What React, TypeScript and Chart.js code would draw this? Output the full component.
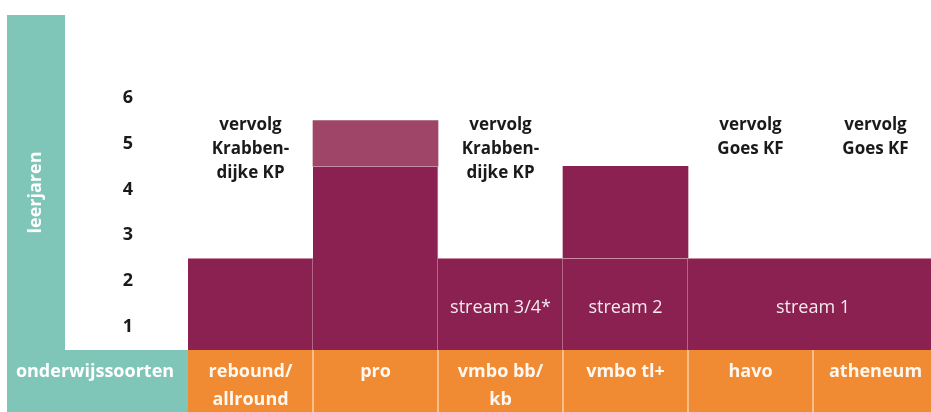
import React, { useEffect, useRef } from "react";
import { Chart, registerables } from "chart.js";

Chart.register(...registerables);

// ---- data ----
const categories: (string | string[])[] = [
  ["rebound/", "allround"],
  "pro",
  ["vmbo bb/", "kb"],
  "vmbo tl+",
  "havo",
  "atheneum",
];
const yearLabels = ["1", "2", "3", "4", "5", "6"];
const lowerYears: [number, number][] = [
  [0, 2],
  [0, 4],
  [0, 2],
  [0, 2],
  [0, 2],
  [0, 2],
];
const upperYears: ([number, number] | null)[] = [null, [4, 5], null, [2, 4], null, null];
const upperIsLight = [false, true, false, false, false, false];
const streams = ["", "", "stream 3/4*", "stream 2", "stream 1", "stream 1"];
const followUp: string[][] = [
  ["vervolg", "Krabben-", "dijke KP"],
  [],
  ["vervolg", "Krabben-", "dijke KP"],
  [],
  ["vervolg", "Goes KF"],
  ["vervolg", "Goes KF"],
];
const yAxisTitle = "leerjaren";
const xAxisTitle = "onderwijssoorten";

// ---- style ----
const FONT = "'Open Sans', 'DejaVu Sans', sans-serif";
const MAROON = "#8a2150";
const MAROON_LIGHT = "#9e4568";
const SEP = "#c98aa3";
const TEAL = "#7fc6b9";
const ORANGE = "#f08b33";
const ORANGE_SEP = "#f8cfa6";
const Y_MAX = 7.3;
const STREAM_LABEL_AT = 0.92;
const FOLLOW_UP_AT = 4.9;

const sepRight = (i: number) =>
  i === categories.length - 1 || (streams[i] !== "" && streams[i] === streams[i + 1]) ? 0 : 1;

const decor = {
  id: "decor",
  beforeDraw(chart: any) {
    const { ctx, chartArea: ca, scales, width, height } = chart;
    const x = scales.x;
    ctx.save();
    ctx.fillStyle = "#ffffff";
    ctx.fillRect(0, 0, width, height);
    // teal L-shape
    ctx.fillStyle = TEAL;
    ctx.fillRect(7, ca.top, 58, height - ca.top);
    ctx.fillRect(7, ca.bottom, ca.left - 7, height - ca.bottom);
    // orange band
    ctx.fillStyle = ORANGE;
    ctx.fillRect(ca.left, ca.bottom, ca.right - ca.left, height - ca.bottom);
    ctx.fillStyle = ORANGE_SEP;
    for (let i = 0; i < categories.length - 1; i++) {
      const bx = (x.getPixelForValue(i) + x.getPixelForValue(i + 1)) / 2;
      ctx.fillRect(bx - 0.75, ca.bottom, 1.5, height - ca.bottom);
    }
    ctx.restore();
  },
  afterDatasetsDraw(chart: any) {
    const { ctx, chartArea: ca, scales } = chart;
    const x = scales.x;
    const y = scales.y;
    ctx.save();
    ctx.textAlign = "center";
    ctx.textBaseline = "middle";
    // stream labels
    ctx.fillStyle = "#f6e9ef";
    ctx.font = `normal 18px ${FONT}`;
    let i = 0;
    while (i < streams.length) {
      let j = i;
      while (j + 1 < streams.length && streams[j + 1] === streams[i]) j++;
      if (streams[i]) {
        const cx = (x.getPixelForValue(i) + x.getPixelForValue(j)) / 2;
        ctx.fillText(streams[i], cx, y.getPixelForValue(STREAM_LABEL_AT));
      }
      i = j + 1;
    }
    // follow-up annotations
    ctx.fillStyle = "#1a1a1a";
    ctx.font = `bold 17px ${FONT}`;
    followUp.forEach((lines, k) => {
      const cx = x.getPixelForValue(k);
      const top = y.getPixelForValue(FOLLOW_UP_AT);
      lines.forEach((ln, m) => ctx.fillText(ln, cx, top + m * 24));
    });
    // axis titles on teal
    ctx.fillStyle = "#ffffff";
    ctx.font = `bold 18px ${FONT}`;
    ctx.fillText(xAxisTitle, 95, ca.bottom + 22);
    ctx.translate(36, (ca.top + ca.bottom) / 2 + 10);
    ctx.rotate(-Math.PI / 2);
    ctx.fillText(yAxisTitle, 0, 0);
    ctx.restore();
  },
};

export default function App() {
  const ref = useRef<HTMLCanvasElement>(null);
  useEffect(() => {
    if (!ref.current) return;
    const chart = new Chart(ref.current, {
      type: "bar",
      data: {
        labels: categories as any,
        datasets: [
          {
            label: "onderbouw",
            data: lowerYears as any,
            backgroundColor: MAROON,
            borderColor: SEP,
            borderWidth: ((ctx: any) => ({ top: 1, right: sepRight(ctx.dataIndex), bottom: 0, left: 0 })) as any,
            borderSkipped: false,
            grouped: false,
            barPercentage: 1,
            categoryPercentage: 1,
          },
          {
            label: "bovenbouw",
            data: upperYears as any,
            backgroundColor: upperIsLight.map((l) => (l ? MAROON_LIGHT : MAROON)),
            borderWidth: 0,
            borderSkipped: false,
            grouped: false,
            barPercentage: 1,
            categoryPercentage: 1,
          },
        ],
      },
      options: {
        responsive: false,
        animation: false,
        layout: { padding: { top: 15, left: 0, right: 0, bottom: 0 } },
        plugins: { legend: { display: false }, tooltip: { enabled: false }, title: { display: false } },
        scales: {
          x: {
            grid: { display: false, drawTicks: false },
            border: { display: false },
            ticks: {
              color: "#fff8f0",
              font: { family: FONT, size: 18, weight: "bold", lineHeight: 1.55 },
              padding: 8,
              maxRotation: 0,
              autoSkip: false,
            },
            afterFit: (s: any) => {
              s.height = 62;
              s.paddingLeft = 0;
              s.paddingRight = 0;
            },
          },
          y: {
            min: 0,
            max: Y_MAX,
            grid: { display: false, drawTicks: false },
            border: { display: false },
            afterFit: (s: any) => {
              s.width = 188;
              s.paddingTop = 0;
              s.paddingBottom = 0;
            },
            afterBuildTicks: (s: any) => {
              s.ticks = yearLabels.map((_, k) => ({ value: k + 0.5 }));
            },
            ticks: {
              callback: (_v: any, k: number) => yearLabels[k],
              padding: 55,
              color: "#1a1a1a",
              font: { family: FONT, size: 18, weight: "bold" },
            },
          },
        },
      } as any,
      plugins: [decor],
    });
    return () => chart.destroy();
  }, []);
  return (
    <div style={{ position: "fixed", left: 0, top: 0, width: 931, height: 412, overflow: "hidden", background: "#fff" }}>
      <canvas ref={ref} width={938} height={412} style={{ display: "block" }} />
    </div>
  );
}
